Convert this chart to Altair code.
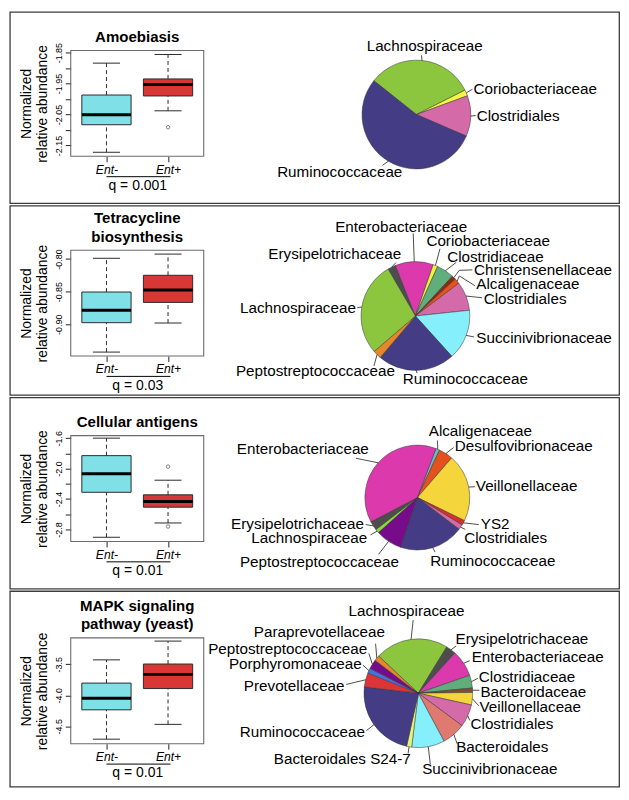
import math
import altair as alt
import pandas as pd

# ---------------- data: box plots ----------------
panel_titles = [["Amoebiasis"], ["Tetracycline", "biosynthesis"],
                ["Cellular antigens"], ["MAPK signaling", "pathway (yeast)"]]
q_values = ["q = 0.001", "q = 0.03", "q = 0.01", "q = 0.01"]
groups = ["Ent-", "Ent+"]
group_pos = [1, 2]
box_fill = ["#7fe0e7", "#d93636"]

whisk_lo = [[-2.172, -2.038], [-0.9425, -0.898], [-2.903, -2.715], [-4.708, -4.469]]
q1s = [[-2.083, -1.990], [-0.8975, -0.8665], [-2.312, -2.507], [-4.234, -3.891]]
medians = [[-2.051, -1.953], [-0.8786, -0.8476], [-2.069, -2.434], [-4.047, -3.662]]
q3s = [[-1.987, -1.935], [-0.8506, -0.8250], [-1.830, -2.345], [-3.803, -3.495]]
whisk_hi = [[-1.884, -1.856], [-0.799, -0.7926], [-1.600, -2.153], [-3.428, -3.125]]
outlier_group = [[2], [], [2, 2], []]
outlier_value = [[-2.091], [], [-1.974, -2.762], []]

y_domains = [[-2.185, -1.843], [-0.9485, -0.7866], [-2.958, -1.567], [-4.781, -3.073]]
y_ticks = [[-2.15, -2.10, -2.05, -2.00, -1.95, -1.90, -1.85],
           [-0.90, -0.85, -0.80],
           [-2.8, -2.6, -2.4, -2.2, -2.0, -1.8, -1.6],
           [-4.5, -4.0, -3.5]]
y_tick_labels = [[-2.15, -2.05, -1.95, -1.85], [-0.90, -0.85, -0.80],
                 [-2.8, -2.4, -2.0, -1.6], [-4.5, -4.0, -3.5]]
y_label_fmt = [".2f", ".2f", ".1f", ".1f"]

# ---------------- data: pies (clockwise order) ----------------
pie_names = [
    ["Lachnospiraceae", "Coriobacteriaceae", "Clostridiales", "Ruminococcaceae"],
    ["Erysipelotrichaceae", "Enterobacteriaceae", "Coriobacteriaceae", "Clostridiaceae",
     "Christensenellaceae", "Alcaligenaceae", "Clostridiales", "Succinivibrionaceae",
     "Ruminococcaceae", "Peptostreptococcaceae", "Lachnospiraceae"],
    ["Alcaligenaceae", "Desulfovibrionaceae", "Veillonellaceae", "YS2", "Clostridiales",
     "Ruminococcaceae", "Peptostreptococcaceae", "Lachnospiraceae", "Erysipelotrichaceae",
     "Enterobacteriaceae"],
    ["Lachnospiraceae", "Erysipelotrichaceae", "Enterobacteriaceae", "Clostridiaceae",
     "Bacteroidaceae", "Veillonellaceae", "Clostridiales", "Bacteroidales",
     "Succinivibrionaceae", "Bacteroidales S24-7", "Ruminococcaceae", "Prevotellaceae",
     "Porphyromonaceae", "Peptostreptococcaceae", "Paraprevotellaceae"],
]
pie_shares = [
    [31.9, 1.8, 12.1, 54.2],
    [2.4, 11.3, 1.4, 5.2, 1.2, 1.6, 8.6, 15.0, 22.9, 2.5, 27.9],
    [1.2, 4.4, 20.9, 1.5, 1.6, 19.8, 8.2, 1.2, 2.8, 38.4],
    [21.8, 3.0, 7.9, 3.8, 1.3, 3.7, 6.7, 7.0, 9.8, 1.5, 23.4, 4.2, 1.5, 2.8, 1.6],
]
pie_colors = [
    ["#8cc63f", "#f5f542", "#d46aa7", "#443d85"],
    ["#4d4d4d", "#dc3aac", "#f2f23c", "#5fae7b", "#8a2a12", "#e8501c", "#d46aa7",
     "#85f0fc", "#443d85", "#e8862a", "#8cc63f"],
    ["#6fb8bf", "#e4511e", "#f5d53c", "#d9302a", "#d46aa7", "#443d85", "#760c8a",
     "#8ad63c", "#4d4d4d", "#dc3aac"],
    ["#8cc63f", "#4d4d4d", "#dc3aac", "#5fae7b", "#8b4a2a", "#f5d53c", "#d46aa7",
     "#e07a70", "#85f0fc", "#e6f57a", "#443d85", "#dc3538", "#4a6fe0", "#760c8a",
     "#e8862a"],
]
pie_start_deg = [308.5, 329.8, 20.7, 313.1]

# ---------------- annotation placement of pie labels (pie-radius units) ----------------
# (text x, text y, anchor, leader end x, leader end y[, leader bend x, bend y])
pie_label_layout = [
    [(0.152, 1.268, "center", 0.095, 1.089),
     (1.05, 0.475, "left", 1.03, 0.466),
     (1.11, -0.02, "left", 1.09, -0.018),
     (-1.41, -1.054, "center", -0.625, -0.934)],
    [(-0.262, 1.134, "right", -0.357, 0.982),
     (-0.262, 1.629, "center", -0.041, 1.521),
     (0.202, 1.371, "left", 0.452, 1.236),
     (0.584, 1.093, "left", 0.75, 0.986),
     (1.077, 0.853, "left", 1.048, 0.848, 0.807, 0.841),
     (1.12, 0.58, "left", 1.095, 0.557, 0.809, 0.736),
     (1.255, 0.318, "left", 1.227, 0.336),
     (1.12, -0.396, "left", 1.077, -0.384),
     (-0.232, -1.157, "left", 0.03, -1.05),
     (-1.839, -1.009, "center", -0.763, -0.92),
     (-1.095, 0.152, "right", -1.07, 0.152)],
    [(0.217, 1.263, "left", 0.383, 1.089),
     (0.715, 0.978, "left", 0.691, 0.954),
     (1.115, 0.213, "left", 1.098, 0.207),
     (1.21, -0.504, "left", 1.172, -0.515),
     (0.894, -0.763, "left", 0.913, -0.607),
     (0.247, -1.207, "left", 0.339, -1.041),
     (-1.867, -1.226, "center", -0.741, -1.083),
     (-0.957, -0.763, "right", -0.894, -0.713),
     (-1.019, -0.504, "right", -0.987, -0.515),
     (-0.926, 0.917, "right", -1.172, 0.75)],
    [(-0.218, 1.505, "center", -0.095, 1.345),
     (0.684, 1.005, "left", 0.696, 0.87),
     (0.982, 0.661, "left", 0.946, 0.598),
     (1.113, 0.304, "left", 1.095, 0.273),
     (1.143, 0.018, "left", 1.125, 0.054),
     (1.125, -0.262, "left", 1.113, -0.232),
     (0.96, -0.559, "left", 0.946, -0.5),
     (0.696, -0.988, "left", 0.714, -0.929),
     (0.071, -1.393, "left", 0.22, -1.304),
     (-0.138, -1.214, "right", -0.188, -1.107),
     (-0.982, -0.709, "right", -0.955, -0.688),
     (-1.357, 0.136, "right", -1.327, 0.161),
     (-1.041, 0.53, "right", -1.018, 0.518),
     (-0.94, 0.82, "right", -0.91, 0.732),
     (-0.613, 1.134, "right", -0.786, 0.911)],
]

# ---------------- layout (reference pixels, scaled by S) ----------------
S = 0.975
FONT = "Liberation Sans"
FRAME_LEFT = 63.0
FRAME_W = 137.0
FRAME_H = 109.0
frame_tops = [40.0, 245.7, 436.7, 645.0]
row_borders = [(0.5, 197.5), (200.0, 395.0), (397.5, 594.5), (597.0, 798.5)]
BORDER_X = (0.5, 628.0)
pie_centers = [(419, 106), (418, 313.5), (420, 500.5), (421, 702)]
pie_radii = [56, 56, 54, 56]
BOX_HALF = 0.4
CAP_HALF = 0.22
TITLE_LH = 18.5

W = FRAME_W * S
H = FRAME_H * S
Y0 = frame_tops[0]
VIEW_H = 1   # every mark is placed through explicit scale ranges


def px_x(xref):
    return (xref - FRAME_LEFT) * S


def px_y(yref):
    return (yref - Y0) * S


def label_expr(values, labels):
    parts = [f"abs(datum.value - ({v})) < 1e-9 ? '{l}'" for v, l in zip(values, labels)]
    return " : ".join(parts) + " : ''"


one = pd.DataFrame({"k": [0]})
layers = []

for k in range(4):
    ft = px_y(frame_tops[k])
    fb = ft + H

    # ---------- row border ----------
    bt, bb = row_borders[k]
    layers.append(alt.Chart(one).mark_rect(fillOpacity=0, stroke="#3c3c3c", strokeWidth=1.3).encode(
        x=alt.value(px_x(BORDER_X[0])), x2=alt.value(px_x(BORDER_X[1])),
        y=alt.value(px_y(bt)), y2=alt.value(px_y(bb))))

    # ---------- box plot ----------
    box_df = pd.DataFrame({
        "group": groups, "pos": group_pos, "lo": whisk_lo[k], "q1": q1s[k],
        "med": medians[k], "q3": q3s[k], "hi": whisk_hi[k], "fill": box_fill,
    })
    xs = alt.Scale(domain=[0.42, 2.58], range=[0, W], nice=False, zero=False)
    ys = alt.Scale(domain=y_domains[k], range=[fb, ft], nice=False, zero=False)
    x_axis = alt.Axis(
        orient="bottom", offset=fb - VIEW_H,
        values=group_pos, labelExpr=label_expr(group_pos, groups),
        labelFontStyle="italic", labelFontSize=12.2, labelColor="black", labelFont=FONT,
        labelPadding=1.5, tickSize=5.5, tickColor="#222", domain=False, grid=False,
        title=q_values[k], titleFontSize=14, titleFontWeight="normal", titleColor="black",
        titleFont=FONT, titlePadding=3,
    )
    y_axis = alt.Axis(
        orient="left",
        values=y_ticks[k],
        labelExpr=label_expr(y_tick_labels[k], [format(v, y_label_fmt[k]) for v in y_tick_labels[k]]),
        labelAngle=270, labelAlign="center", labelBaseline="bottom", labelFontSize=9,
        labelColor="black", labelFont=FONT, labelPadding=1.5, tickSize=5.5, tickColor="#222",
        domain=False, grid=False, title=["Normalized", "relative abundance"],
        titleFontSize=14, titleFontWeight="normal", titleColor="black", titleFont=FONT,
        titlePadding=5, titleLineHeight=16.5,
    )
    bbase = alt.Chart(box_df).transform_calculate(
        left=f"datum.pos - {BOX_HALF}", right=f"datum.pos + {BOX_HALF}",
        capl=f"datum.pos - {CAP_HALF}", capr=f"datum.pos + {CAP_HALF}",
    )
    xn = dict(scale=xs, axis=None)
    yn = dict(scale=ys, axis=None)
    layers.append(bbase.mark_rect(stroke="#2b2b2b", strokeWidth=1).encode(
        x=alt.X("left:Q", scale=xs, axis=x_axis), x2="right:Q",
        y=alt.Y("q1:Q", scale=ys, axis=y_axis), y2="q3:Q",
        fill=alt.Fill("fill:N", scale=None)))
    layers.append(bbase.mark_rule(color="#2b2b2b", strokeWidth=1, strokeDash=[4, 3]).encode(
        x=alt.X("pos:Q", **xn), y=alt.Y("q3:Q", **yn), y2="hi:Q"))
    layers.append(bbase.mark_rule(color="#2b2b2b", strokeWidth=1, strokeDash=[4, 3]).encode(
        x=alt.X("pos:Q", **xn), y=alt.Y("lo:Q", **yn), y2="q1:Q"))
    layers.append(bbase.mark_rule(color="#2b2b2b", strokeWidth=1).encode(
        x=alt.X("capl:Q", **xn), x2="capr:Q", y=alt.Y("hi:Q", **yn)))
    layers.append(bbase.mark_rule(color="#2b2b2b", strokeWidth=1).encode(
        x=alt.X("capl:Q", **xn), x2="capr:Q", y=alt.Y("lo:Q", **yn)))
    layers.append(bbase.mark_rule(color="black", strokeWidth=3).encode(
        x=alt.X("left:Q", **xn), x2="right:Q", y=alt.Y("med:Q", **yn)))
    if outlier_value[k]:
        out_df = pd.DataFrame({"pos": outlier_group[k], "value": outlier_value[k]})
        layers.append(alt.Chart(out_df).mark_point(
            filled=False, size=12, strokeWidth=0.8, color="#222").encode(
            x=alt.X("pos:Q", **xn), y=alt.Y("value:Q", **yn)))
    br_df = pd.DataFrame({"x1": [group_pos[0]], "x2": [group_pos[-1]]})
    layers.append(alt.Chart(br_df).transform_calculate(x2e="datum.x2 + 0.04").mark_rule(
        color="black", strokeWidth=1).encode(
        x=alt.X("x1:Q", **xn), x2="x2e:Q", y=alt.value(fb + 21 * S)))
    layers.append(alt.Chart(one).mark_rect(fillOpacity=0, stroke="#6b6b6b", strokeWidth=1.1).encode(
        x=alt.value(0), x2=alt.value(W), y=alt.value(ft), y2=alt.value(fb)))
    n_lines = len(panel_titles[k])
    layers.append(alt.Chart(one).mark_text(
        text=panel_titles[k], fontSize=15.1, fontWeight="bold", font=FONT, align="center",
        baseline="bottom", lineHeight=TITLE_LH, color="black").encode(
        x=alt.value(W / 2), y=alt.value(ft - 5.5 - TITLE_LH * (n_lines - 1))))

    # ---------- pie ----------
    R = pie_radii[k] * S
    cx = px_x(pie_centers[k][0])
    cy = px_y(pie_centers[k][1])
    pxs = alt.Scale(domain=[-1, 1], range=[cx - R, cx + R], nice=False, zero=False)
    pys = alt.Scale(domain=[-1, 1], range=[cy + R, cy - R], nice=False, zero=False)
    lay = pie_label_layout[k]
    n = len(pie_names[k])
    pie_df = pd.DataFrame({
        "name": pie_names[k], "share": pie_shares[k], "color": pie_colors[k],
        "idx": list(range(n)),
        "tx": [l[0] for l in lay], "ty": [l[1] for l in lay], "anchor": [l[2] for l in lay],
        "ex": [l[3] for l in lay], "ey": [l[4] for l in lay],
        "mx": [l[5] if len(l) > 5 else l[3] for l in lay],
        "my": [l[6] if len(l) > 5 else l[4] for l in lay],
    })
    st = math.radians(pie_start_deg[k])
    pbase = alt.Chart(pie_df).transform_window(
        cum="sum(share)", sort=[alt.SortField("idx")]
    ).transform_joinaggregate(total="sum(share)").transform_calculate(
        t1=f"{st} + 2*PI*datum.cum/datum.total",
        t0=f"{st} + 2*PI*(datum.cum - datum.share)/datum.total",
        zero="0",
    ).transform_calculate(mid="(datum.t0 + datum.t1)/2").transform_calculate(
        sx="sin(datum.mid)", sy="cos(datum.mid)")
    pxn = dict(scale=pxs, axis=None)
    pyn = dict(scale=pys, axis=None)
    layers.append(pbase.mark_arc(radius=R, stroke="#333333", strokeWidth=0.5).encode(
        x=alt.X("zero:Q", **pxn), y=alt.Y("zero:Q", **pyn),
        theta=alt.Theta("t0:Q", scale=None), theta2=alt.Theta2("t1"),
        fill=alt.Fill("color:N", scale=None)))
    layers.append(pbase.mark_rule(color="#222", strokeWidth=0.8).encode(
        x=alt.X("sx:Q", **pxn), y=alt.Y("sy:Q", **pyn), x2="mx:Q", y2="my:Q"))
    layers.append(pbase.mark_rule(color="#222", strokeWidth=0.8).encode(
        x=alt.X("mx:Q", **pxn), y=alt.Y("my:Q", **pyn), x2="ex:Q", y2="ey:Q"))
    for al in ["left", "right", "center"]:
        if al in [l[2] for l in lay]:
            layers.append(
                pbase.transform_filter(f"datum.anchor == '{al}'").mark_text(
                    align=al, baseline="middle", fontSize=15.3, font=FONT, color="black").encode(
                    x=alt.X("tx:Q", **pxn), y=alt.Y("ty:Q", **pyn), text="name:N"))

chart = alt.layer(*layers).resolve_scale(
    x="independent", y="independent"
).properties(
    width=W, height=VIEW_H, padding=1,
    view=alt.ViewBackground(strokeWidth=0, stroke="transparent"),
).configure_view(strokeWidth=0, stroke="transparent").configure_axis(
    grid=False, domain=False).configure(font=FONT)

chart.save("out.html", embed_options={"renderer": "svg", "actions": False})
